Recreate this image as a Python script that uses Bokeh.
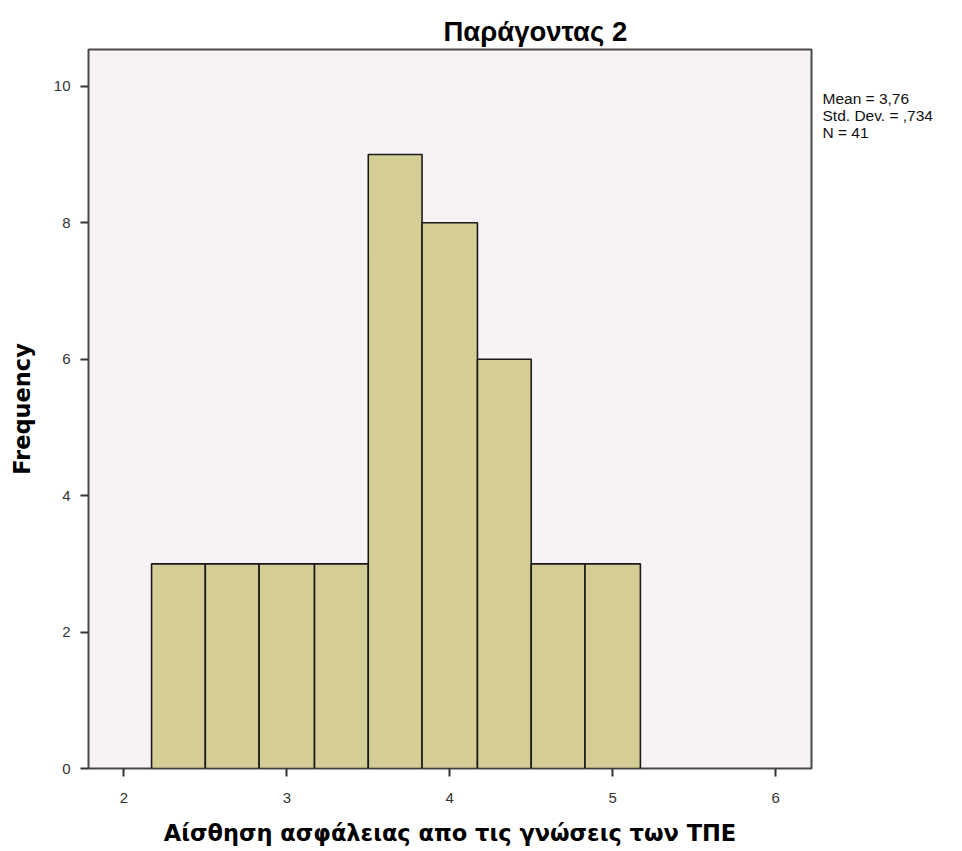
from bokeh.plotting import figure
from bokeh.models import Range1d, Label, FixedTicker, Title, ColumnDataSource
from bokeh.layouts import row
from bokeh.embed import file_html
from bokeh.resources import INLINE

# Data
bin_left = [2.17, 2.50, 2.83, 3.17, 3.50, 3.83, 4.17, 4.50, 4.83]
bin_right = [2.50, 2.83, 3.17, 3.50, 3.83, 4.17, 4.50, 4.83, 5.17]
counts = [3, 3, 3, 3, 9, 8, 6, 3, 3]
x_ticks = [2, 3, 4, 5, 6]
y_ticks = [0, 2, 4, 6, 8, 10]
stats_lines = ["Mean = 3,76", "Std. Dev. = ,734", "N = 41"]
title_text = "Παράγοντας 2"
x_label = "Αίσθηση ασφάλειας απο τις γνώσεις των ΤΠΕ"
y_label = "Frequency"

src = ColumnDataSource(dict(left=bin_left, right=bin_right, top=counts, bottom=[0] * len(counts)))

H = 851
p = figure(width=816, height=H, output_backend="svg", toolbar_location=None,
           x_range=Range1d(1.783, 6.22), y_range=Range1d(0, 10.54),
           min_border_left=88, min_border_right=5, min_border_top=49, min_border_bottom=83)
p.title = None
t = Title(text=title_text, align="left", offset=355, text_font="Liberation Sans",
          text_font_size="27.5px", text_font_style="bold", text_color="#000000", standoff=6)
p.add_layout(t, "above")

p.background_fill_color = "#F6F2F6"
p.border_fill_color = "white"
p.outline_line_color = "#4a4a4a"
p.outline_line_width = 2
p.grid.visible = False

p.quad(left="left", right="right", top="top", bottom="bottom", source=src,
       fill_color="#D4CE96", line_color="#1a1a1a", line_width=1.6)

for ax in (p.xaxis[0], p.yaxis[0]):
    ax.axis_line_color = None
    ax.major_tick_line_color = "#333333"
    ax.major_tick_line_width = 2
    ax.major_tick_out = 8
    ax.major_tick_in = 0
    ax.minor_tick_line_color = None
    ax.major_label_text_font = "Liberation Sans"
    ax.major_label_text_font_size = "15px"
    ax.major_label_text_color = "#333333"
    ax.axis_label_text_font = "DejaVu Sans"
    ax.axis_label_text_font_style = "bold"
    ax.axis_label_text_font_size = "22.5px"
    ax.axis_label_text_color = "#000000"

p.xaxis.ticker = FixedTicker(ticks=x_ticks)
p.yaxis.ticker = FixedTicker(ticks=y_ticks)
p.xaxis.axis_label = x_label
p.yaxis.axis_label = y_label
p.xaxis.major_label_standoff = 16
p.yaxis.major_label_standoff = 10
p.xaxis.axis_label_standoff = 14
p.yaxis.axis_label_standoff = 16

# Side panel for the summary statistics
SW = 146
side = figure(width=SW, height=H, output_backend="svg", toolbar_location=None,
              x_range=Range1d(0, SW), y_range=Range1d(0, H),
              x_axis_type=None, y_axis_type=None,
              min_border=0, min_border_left=0, min_border_right=0,
              min_border_top=0, min_border_bottom=0)
side.grid.visible = False
side.outline_line_color = None
side.background_fill_color = "white"
side.border_fill_color = "white"
side.title = None

line_tops = [H - 48, H - 68, H - 88]
for txt, yy in zip(stats_lines, line_tops):
    side.add_layout(Label(x=6, y=yy, text=txt,
                          text_font="Liberation Sans", text_font_size="15.5px",
                          text_baseline="top", text_color="#111111"))

layout = row(p, side, spacing=0)
open("out.html", "w").write(file_html(layout, INLINE))
